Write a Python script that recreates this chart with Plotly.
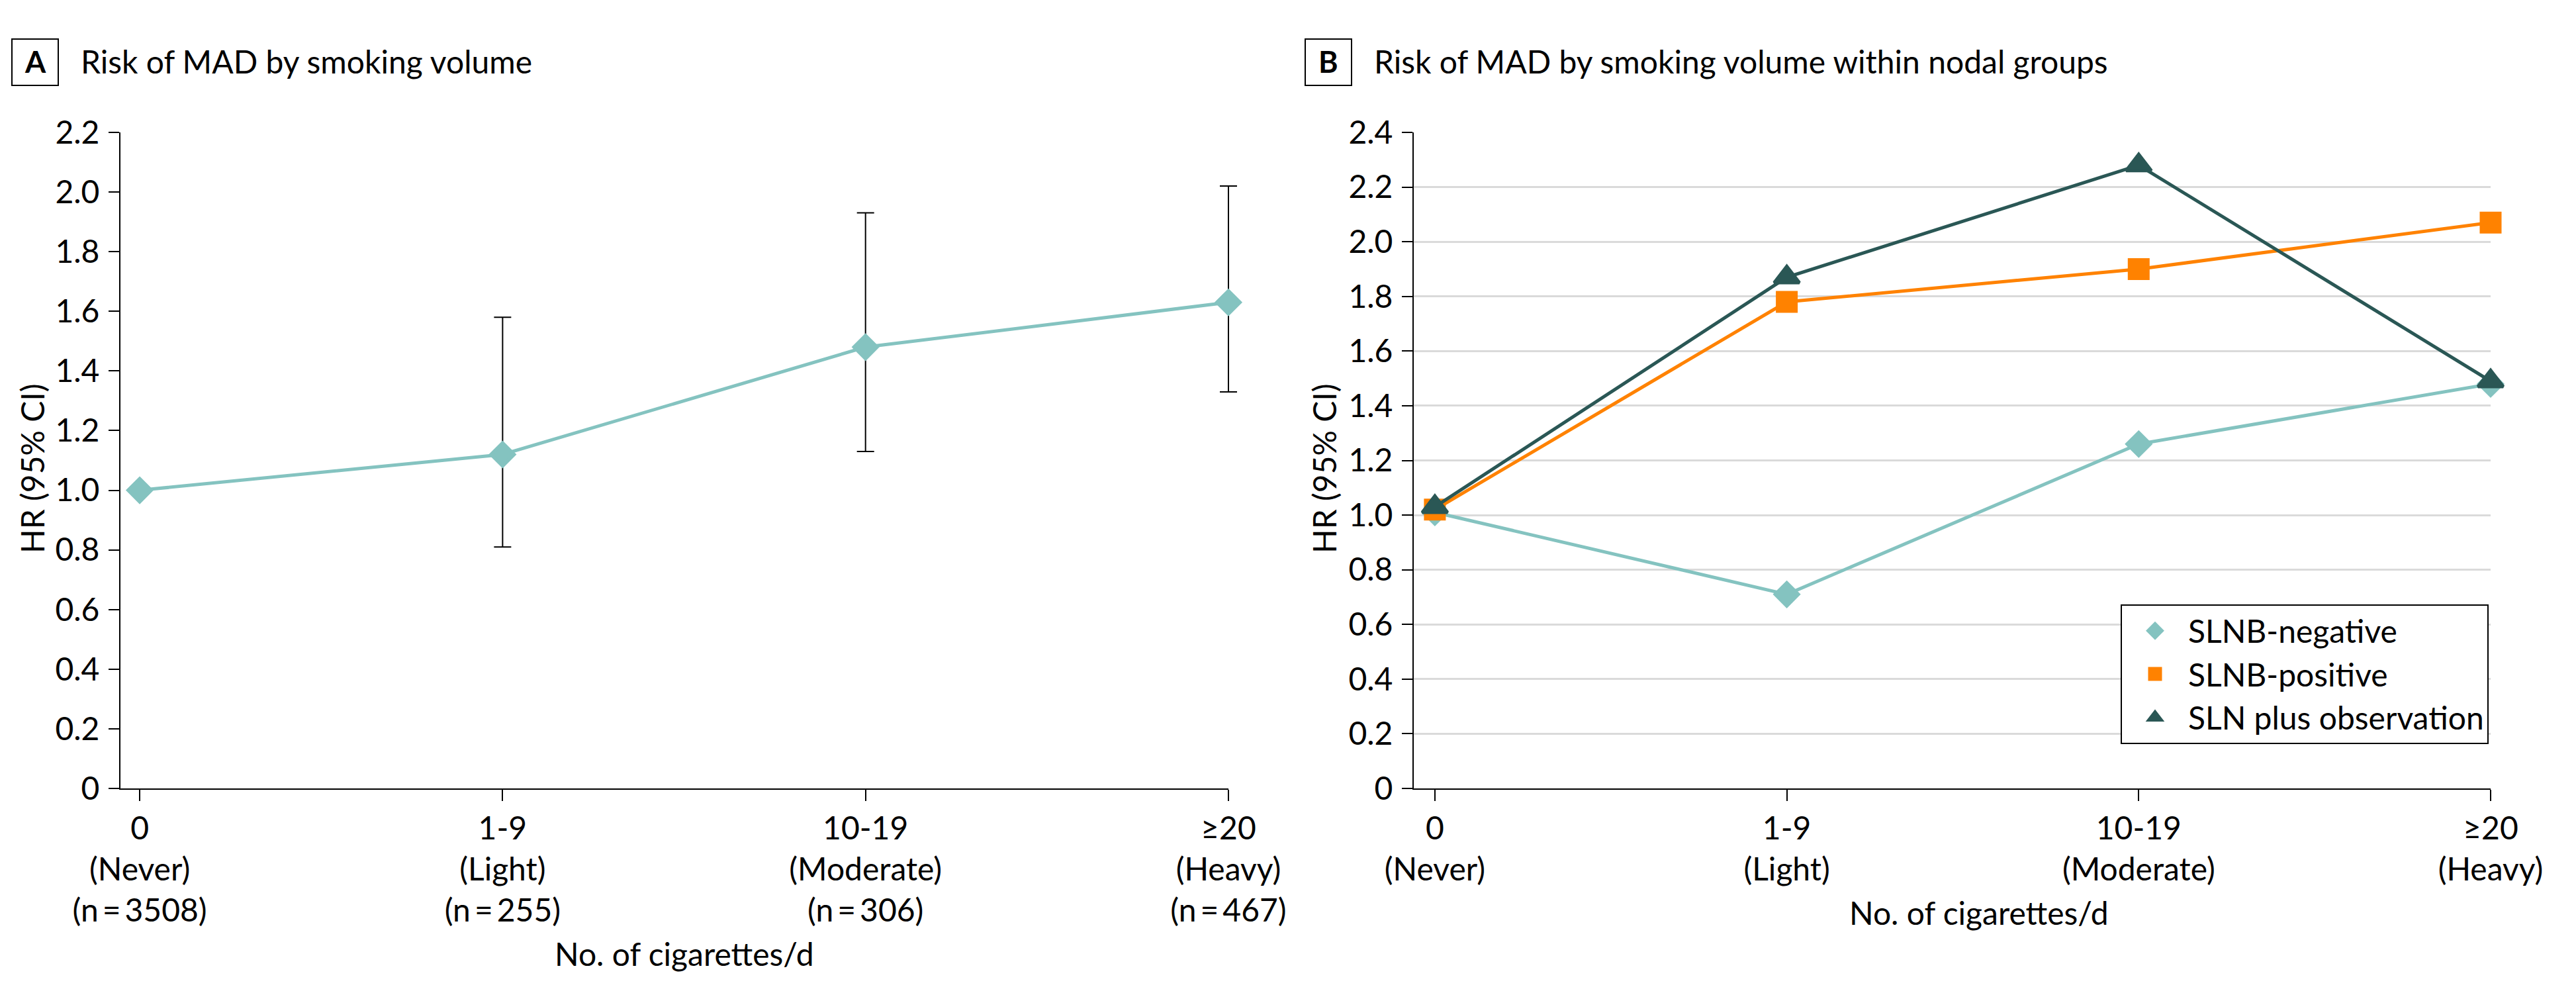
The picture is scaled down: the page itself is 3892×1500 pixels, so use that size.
import plotly.graph_objects as go

W, H = 3892, 1500

# ---------------- data ----------------
categories = ["0", "1-9", "10-19", "≥20"]
group_names = ["Never", "Light", "Moderate", "Heavy"]
group_n = ["3508", "255", "306", "467"]

# Panel A: overall HR with 95% CI
hr_overall = [1.00, 1.12, 1.48, 1.63]
ci_lower = [1.00, 0.81, 1.13, 1.33]
ci_upper = [1.00, 1.58, 1.93, 2.02]

# Panel B: HR within nodal groups
series_names = ["SLNB-negative", "SLNB-positive", "SLN plus observation"]
hr_slnb_negative = [1.01, 0.71, 1.26, 1.48]
hr_slnb_positive = [1.02, 1.78, 1.90, 2.07]
hr_sln_observation = [1.03, 1.87, 2.28, 1.49]

y_ticks_a = [0, 0.2, 0.4, 0.6, 0.8, 1.0, 1.2, 1.4, 1.6, 1.8, 2.0, 2.2]
y_ticks_b = [0, 0.2, 0.4, 0.6, 0.8, 1.0, 1.2, 1.4, 1.6, 1.8, 2.0, 2.2, 2.4]
y_ticktext_a = ["0", "0.2", "0.4", "0.6", "0.8", "1.0", "1.2", "1.4", "1.6", "1.8", "2.0", "2.2"]
y_ticktext_b = ["0", "0.2", "0.4", "0.6", "0.8", "1.0", "1.2", "1.4", "1.6", "1.8", "2.0", "2.2", "2.4"]

# ---------------- style ----------------
FONT = "Lato, 'Open Sans', sans-serif"
FS = 48
TEAL = "#84C3C0"
ORANGE = "#FF8200"
DARK = "#2A5755"
GRID = "#DADADA"


def px(xp):
    return xp / W


def py(yp):
    return 1 - yp / H


labels_a = [f"{c}<br>({g})<br>(n\u2009=\u2009{n})" for c, g, n in zip(categories, group_names, group_n)]
labels_b = [f"{c}<br>({g})" for c, g in zip(categories, group_names)]

# Panel A axis geometry (visible axis) and a wider invisible twin so that
# the error-bar caps at the last category are not clipped.
A_LEFT, A_RIGHT = 174, 1848
A_RANGE = [-0.053, 3.0]
a_scale = (A_RIGHT - A_LEFT) / (A_RANGE[1] - A_RANGE[0])
A_EXT = 60
A_RANGE_EXT = [A_RANGE[0], A_RANGE[1] + A_EXT / a_scale]

fig = go.Figure()

# empty trace that only registers the visible panel-A axes (draws nothing)
fig.add_trace(go.Scatter(
    x=categories, y=[None] * len(categories), mode="markers",
    showlegend=False, hoverinfo="skip", xaxis="x", yaxis="y",
))

# Panel A: CI bars (only where a CI exists)
err_idx = [i for i in range(len(categories)) if ci_upper[i] != ci_lower[i]]
fig.add_trace(go.Scatter(
    x=[categories[i] for i in err_idx],
    y=[hr_overall[i] for i in err_idx],
    mode="markers",
    marker=dict(size=1, opacity=0),
    error_y=dict(type="data", symmetric=False,
                 array=[ci_upper[i] - hr_overall[i] for i in err_idx],
                 arrayminus=[hr_overall[i] - ci_lower[i] for i in err_idx],
                 color="black", thickness=2, width=13),
    showlegend=False, hoverinfo="skip", cliponaxis=False,
    xaxis="x3", yaxis="y3",
))
fig.add_trace(go.Scatter(
    x=categories, y=hr_overall, mode="lines+markers",
    line=dict(color=TEAL, width=5),
    marker=dict(symbol="diamond", size=27, color=TEAL, line=dict(color=TEAL, width=5)),
    showlegend=False, cliponaxis=False,
    xaxis="x3", yaxis="y3",
))

# Panel B
for name, vals, col, sym, size in [
    (series_names[0], hr_slnb_negative, TEAL, "diamond", 27),
    (series_names[1], hr_slnb_positive, ORANGE, "square", 28),
    (series_names[2], hr_sln_observation, DARK, "triangle-up", 33),
]:
    fig.add_trace(go.Scatter(
        x=categories, y=vals, mode="lines",
        line=dict(color=col, width=5),
        showlegend=False, hoverinfo="skip",
        cliponaxis=False, xaxis="x2", yaxis="y2",
    ))
    fig.add_trace(go.Scatter(
        x=categories, y=vals, name=name, mode="markers",
        marker=dict(symbol=sym, size=size, color=col, line=dict(color=col, width=5)),
        cliponaxis=False, xaxis="x2", yaxis="y2",
    ))

axis_common = dict(
    showline=True, linecolor="black", linewidth=2,
    ticks="outside", tickcolor="black", tickwidth=2,
    tickfont=dict(family=FONT, size=FS, color="black"),
    automargin=False, zeroline=False,
)

fig.update_layout(
    template="none",
    width=W, height=H,
    margin=dict(l=0, r=0, t=0, b=0),
    paper_bgcolor="white", plot_bgcolor="white",
    font=dict(family=FONT, size=FS, color="black"),
    xaxis=dict(domain=[px(A_LEFT), px(A_RIGHT)], type="category",
               categoryorder="array", categoryarray=categories,
               range=A_RANGE, tickvals=categories, ticktext=labels_a,
               ticklen=17, showgrid=False, anchor="y", **axis_common),
    yaxis=dict(domain=[py(1183), py(192)], range=[0, 2.2],
               tickvals=y_ticks_a, ticktext=y_ticktext_a, ticklen=16, ticklabelstandoff=4,
               showgrid=True, gridcolor=GRID, gridwidth=3, anchor="x", **axis_common),
    xaxis3=dict(domain=[px(A_LEFT), px(A_RIGHT + A_EXT)], type="category",
                categoryorder="array", categoryarray=categories,
                range=A_RANGE_EXT, visible=False, showgrid=False, zeroline=False,
                anchor="y3", automargin=False),
    yaxis3=dict(domain=[py(1183), py(192)], range=[0, 2.2], visible=False,
                showgrid=False, zeroline=False, anchor="x3", automargin=False),
    xaxis2=dict(domain=[px(2128), px(3755)], type="category",
                categoryorder="array", categoryarray=categories,
                range=[-0.06, 3.0], tickvals=categories, ticktext=labels_b,
                ticklen=17, showgrid=False, anchor="y2", **axis_common),
    yaxis2=dict(domain=[py(1183), py(192)], range=[0, 2.4],
                tickvals=y_ticks_b, ticktext=y_ticktext_b, ticklen=16, ticklabelstandoff=4,
                showgrid=True, gridcolor=GRID, gridwidth=3, anchor="x2", **axis_common),
    legend=dict(x=px(3752), y=py(905), xanchor="right", yanchor="top",
                bgcolor="white", bordercolor="black", borderwidth=2,
                font=dict(family=FONT, size=FS, color="black"),
                itemwidth=90, tracegroupgap=0),
    showlegend=True,
)

annotations = [
    dict(text="<b>A</b>", x=px(45), y=py(85), font=dict(family=FONT, size=45, color="black"),
         xanchor="center", yanchor="middle"),
    dict(text="Risk of MAD by smoking volume", x=px(112), y=py(85), xanchor="left", yanchor="middle"),
    dict(text="<b>B</b>", x=px(1999), y=py(85), font=dict(family=FONT, size=45, color="black"),
         xanchor="center", yanchor="middle"),
    dict(text="Risk of MAD by smoking volume within nodal groups", x=px(2066), y=py(85),
         xanchor="left", yanchor="middle"),
    dict(text="HR (95% CI)", x=px(40), y=py(700), textangle=-90, xanchor="center", yanchor="middle"),
    dict(text="HR (95% CI)", x=px(1992), y=py(700), textangle=-90, xanchor="center", yanchor="middle"),
    dict(text="No. of cigarettes/d", x=px(1026), y=py(1432), xanchor="center", yanchor="middle"),
    dict(text="No. of cigarettes/d", x=px(2982), y=py(1370), xanchor="center", yanchor="middle"),
]
for a in annotations:
    a.setdefault("font", dict(family=FONT, size=FS, color="black"))
    a.update(xref="paper", yref="paper", showarrow=False)
fig.update_layout(annotations=annotations)

fig.update_layout(shapes=[
    dict(type="rect", xref="paper", yref="paper", x0=px(10), x1=px(80), y0=py(121), y1=py(51),
         line=dict(color="black", width=2)),
    dict(type="rect", xref="paper", yref="paper", x0=px(1964), x1=px(2034), y0=py(121), y1=py(51),
         line=dict(color="black", width=2)),
])

fig.write_html("out.html")
